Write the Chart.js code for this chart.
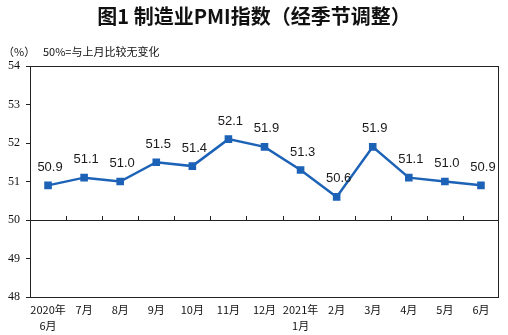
<!DOCTYPE html>
<html>
<head>
<meta charset="utf-8">
<script src="https://cdn.jsdelivr.net/npm/chart.js@4/dist/chart.umd.min.js"></script>
<style>
  body { margin: 0; background: #fff; }
  #wrap { position: relative; width: 508px; height: 335px; }
  #title { position: absolute; left: 0; top: 1px; width: 508px; text-align: center;
    font: bold 20px "Noto Sans CJK SC", sans-serif; color: #111; }
  .note { position: absolute; top: 43px; font: 11px "Noto Sans CJK SC", sans-serif; color: #111; }
</style>
</head>
<body>
<div id="wrap">
  <div id="title">图1 制造业PMI指数（经季节调整）</div>
  <div class="note" style="left:3px">（%）</div>
  <div class="note" style="left:43px">50%=与上月比较无变化</div>
  <canvas id="chart" width="508" height="335"></canvas>
</div>
<script>
var months = [['2020年', '6月'], '7月', '8月', '9月', '10月', '11月', '12月',
  ['2021年', '1月'], '2月', '3月', '4月', '5月', '6月'];
var pmi = [50.9, 51.1, 51.0, 51.5, 51.4, 52.1, 51.9, 51.3, 50.6, 51.9, 51.1, 51.0, 50.9];
var yMin = 48, yMax = 54, baseLine = 50;

// box, 50 line with small ticks, and the value labels
var frame = {
    id: 'frame',
    beforeDatasetsDraw(chart) {
        var a = chart.chartArea, ctx = chart.ctx;
        var x = chart.scales.x, y = chart.scales.y;
        var y50 = y.getPixelForValue(baseLine);
        var half = (x.getPixelForValue(1) - x.getPixelForValue(0)) / 2;
        ctx.save();
        ctx.strokeStyle = '#222';
        ctx.lineWidth = 1;
        ctx.strokeRect(a.left + 0.5, a.top + 0.5, a.right - a.left - 1, a.bottom - a.top);
        ctx.beginPath();
        ctx.moveTo(a.left, Math.round(y50) + 0.5);
        ctx.lineTo(a.right, Math.round(y50) + 0.5);
        for (var i = 0; i < months.length - 1; i++) {
            var px = Math.round(x.getPixelForValue(i) + half) + 0.5;
            ctx.moveTo(px, Math.round(y50));
            ctx.lineTo(px, Math.round(y50) - 4);
        }
        ctx.stroke();
        ctx.restore();
    },
    afterDatasetsDraw(chart) {
        var ctx = chart.ctx;
        var meta = chart.getDatasetMeta(0);
        ctx.save();
        ctx.font = '13px "Liberation Sans", Arial, sans-serif';
        ctx.fillStyle = '#1a1a1a';
        ctx.textAlign = 'center';
        ctx.textBaseline = 'middle';
        meta.data.forEach(function (pt, i) {
            ctx.fillText(pmi[i].toFixed(1), pt.x + 2, pt.y - 18);
        });
        ctx.restore();
    }
};

var ctx = document.getElementById('chart').getContext('2d');
new Chart(ctx, {
    type: 'line',
    data: {
        labels: months,
        datasets: [{
            data: pmi,
            borderColor: '#1c62b6',
            backgroundColor: '#1c62b6',
            borderWidth: 2.5,
            pointStyle: 'rect',
            pointRadius: 3.6,
            pointHoverRadius: 3.6,
            tension: 0
        }]
    },
    options: {
        responsive: false,
        animation: false,
        layout: { padding: { left: 0, right: 9, top: 66, bottom: 0 } },
        plugins: { legend: { display: false }, tooltip: { enabled: false } },
        scales: {
            x: {
                offset: true,
                afterFit: function (s) { s.height = 38; },
                grid: { display: false, drawTicks: false },
                border: { display: false },
                ticks: {
                    color: '#111',
                    font: { size: 11, family: '"Noto Sans CJK SC", sans-serif', lineHeight: 1.45 },
                    padding: 5,
                    maxRotation: 0,
                    autoSkip: false
                }
            },
            y: {
                min: yMin,
                max: yMax,
                afterFit: function (s) { s.width = 30; },
                grid: { drawOnChartArea: false, drawTicks: true, tickLength: 4, color: '#222' },
                border: { display: false },
                ticks: {
                    stepSize: 1,
                    color: '#111',
                    padding: 6,
                    font: { size: 12, family: '"Liberation Serif", serif' }
                }
            }
        }
    },
    plugins: [frame]
});
</script>
</body>
</html>
